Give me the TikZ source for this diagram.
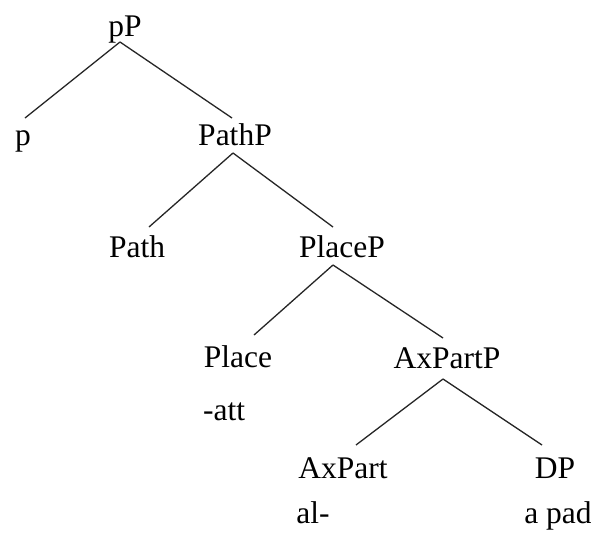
\documentclass[tikz,border=0pt]{standalone}
\usepackage{fontspec}
\setmainfont{Liberation Serif}
\begin{document}
\begin{tikzpicture}[x=1pt,y=-1pt,
  lab/.style={anchor=base,inner sep=0pt,font=\fontsize{31.5}{36}\selectfont},
  edge/.style={draw=black!85,line width=1.3pt}]
\useasboundingbox[fill=white] (0,0) rectangle (591,538);
% nodes
\node[lab] (pP) at (125,36) {pP};
\node[lab] (p) at (23,145) {p};
\node[lab] (PathP) at (235,145) {PathP};
\node[lab] (Path) at (137,257) {Path};
\node[lab] (PlaceP) at (342,257) {PlaceP};
\node[lab] (Place) at (238,367) {Place};
\node[lab,anchor=base west] (att) at (203,420) {-att};
\node[lab] (AxPartP) at (447,368) {AxPartP};
\node[lab] (AxPart) at (343,478) {AxPart};
\node[lab] (DP) at (555,478) {DP};
\node[lab] (al) at (313,523) {al-};
\node[lab] (apad) at (558,523) {a pad};
% edges
\draw[edge] ([shift={(-5,6)}]pP.base) -- ([shift={(2,-27)}]p.base);
\draw[edge] ([shift={(-5,6)}]pP.base) -- ([shift={(-3,-27)}]PathP.base);
\draw[edge] ([shift={(-2,8)}]PathP.base) -- ([shift={(12,-30)}]Path.base);
\draw[edge] ([shift={(-2,8)}]PathP.base) -- ([shift={(-9,-30)}]PlaceP.base);
\draw[edge] ([shift={(-9,8)}]PlaceP.base) -- ([shift={(16,-32)}]Place.base);
\draw[edge] ([shift={(-9,8)}]PlaceP.base) -- ([shift={(-4,-30)}]AxPartP.base);
\draw[edge] ([shift={(-4,11)}]AxPartP.base) -- ([shift={(13,-33)}]AxPart.base);
\draw[edge] ([shift={(-4,11)}]AxPartP.base) -- ([shift={(-13,-33)}]DP.base);
\end{tikzpicture}
\end{document}
